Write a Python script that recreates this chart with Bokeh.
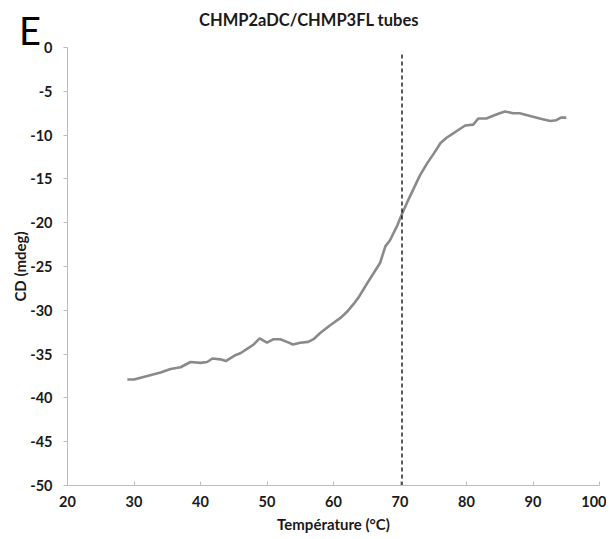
from bokeh.plotting import figure
from bokeh.models import Range1d, FixedTicker, Label, GridBox
from bokeh.embed import file_html
from bokeh.resources import INLINE

# Data
temperature = [29, 30, 32, 34, 35.5, 37, 38.5, 40, 41, 41.8, 43, 43.8, 45.3, 46, 47, 48, 48.9,
               50, 51, 52, 53, 53.9, 55, 56.2, 57, 58, 59.5, 61, 62, 63, 63.8, 65, 66, 67,
               67.8, 68.5, 69.6, 70.3, 71, 72, 73, 74.1, 75, 76.1, 77, 78, 79, 79.8, 81,
               81.8, 83, 84, 85, 85.8, 87, 88, 89, 90, 91, 92.6, 93.5, 94.2, 95]
cd_mdeg = [-37.9, -37.9, -37.5, -37.1, -36.7, -36.5, -35.9, -36.0, -35.9, -35.5, -35.6, -35.8,
           -35.1, -34.9, -34.4, -33.9, -33.2, -33.7, -33.3, -33.3, -33.6, -33.9, -33.7, -33.6,
           -33.3, -32.6, -31.7, -30.9, -30.2, -29.3, -28.5, -27.0, -25.8, -24.6, -22.7, -22.0,
           -20.3, -19.0, -17.8, -16.2, -14.6, -13.2, -12.2, -10.9, -10.3, -9.8, -9.3, -8.9,
           -8.8, -8.1, -8.1, -7.8, -7.5, -7.3, -7.5, -7.5, -7.7, -7.9, -8.1, -8.4, -8.3, -8.0, -8.0]
transition_x = [70.3]
transition_y0 = [-50]
transition_y1 = [-0.6]
x_ticks = [20, 30, 40, 50, 60, 70, 80, 90, 100]
y_ticks = [0, -5, -10, -15, -20, -25, -30, -35, -40, -45, -50]
title_text = "CHMP2aDC/CHMP3FL tubes"
panel_letter = "E"

FONT = "Lato"
W, H = 606, 535

p = figure(width=W, height=H, output_backend="svg", toolbar_location=None,
           x_range=Range1d(20, 100), y_range=Range1d(-50, 0),
           min_border_left=67, min_border_right=7, min_border_top=47, min_border_bottom=49)
p.frame_align = False
p.outline_line_color = None
p.xgrid.visible = False
p.ygrid.visible = False
p.background_fill_color = "white"

p.line(temperature, cd_mdeg, line_color="#8a8a8a", line_width=2.6)
p.segment(x0=transition_x, y0=transition_y0, x1=transition_x, y1=transition_y1,
          line_color="black", line_width=1.3, line_dash="4 3")

for ax in (p.xaxis[0], p.yaxis[0]):
    ax.axis_line_color = "#bdbdbd"
    ax.major_tick_line_color = "#bdbdbd"
    ax.minor_tick_line_color = None
    ax.major_label_text_font = FONT
    ax.major_label_text_font_style = "bold"
    ax.major_label_text_font_size = "14.5px"
    ax.major_label_text_color = "#1a1a1a"
    ax.axis_label_text_font = FONT
    ax.axis_label_text_font_style = "bold"
    ax.axis_label_text_font_size = "15px"
    ax.axis_label_text_color = "#1a1a1a"

p.xaxis.ticker = FixedTicker(ticks=x_ticks)
p.yaxis.ticker = FixedTicker(ticks=y_ticks)
p.yaxis.major_label_overrides = {t: str(t) for t in y_ticks}
p.xaxis.axis_label = "Température (°C)"
p.yaxis.axis_label = "CD (mdeg)"
p.xaxis.major_tick_in = 4
p.xaxis.major_tick_out = 0
p.yaxis.major_tick_in = 0
p.yaxis.major_tick_out = 4
p.xaxis.major_label_standoff = 10
p.yaxis.major_label_standoff = 11
p.xaxis.axis_label_standoff = 5
p.yaxis.axis_label_standoff = -2

# transparent header strip laid over the top border of the chart
hdr = figure(width=W, height=47, output_backend="svg", toolbar_location=None,
             x_axis_location=None, y_axis_location=None,
             x_range=Range1d(0, 1), y_range=Range1d(0, 1),
             min_border_left=0, min_border_right=0, min_border_top=0, min_border_bottom=0)
hdr.frame_align = False
hdr.outline_line_color = None
hdr.background_fill_color = None
hdr.border_fill_color = None
hdr.xgrid.visible = False
hdr.ygrid.visible = False
hdr.add_layout(Label(x=18.5, y=18, x_units="screen", y_units="screen", text=panel_letter,
                     text_font=FONT, text_font_size="38px", text_color="black",
                     text_baseline="alphabetic"))
hdr.add_layout(Label(x=308.5, y=28, x_units="screen", y_units="screen", text=title_text,
                     text_font=FONT, text_font_size="16.5px", text_font_style="bold",
                     text_color="#1a1a1a", text_align="center", text_baseline="alphabetic"))

layout = GridBox(children=[(p, 0, 0), (hdr, 0, 0)])

open("out.html", "w").write(file_html(layout, INLINE))
